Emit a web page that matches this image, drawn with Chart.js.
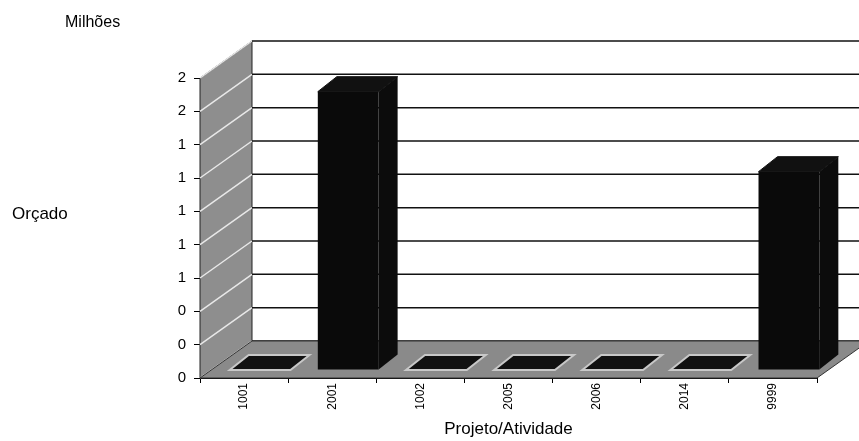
<!DOCTYPE html>
<html>
<head>
<meta charset="utf-8">
<script src="https://cdn.jsdelivr.net/npm/chart.js@4.4.1/dist/chart.umd.min.js"></script>
<style>
	html, body { margin: 0; padding: 0; background: #fff; }
	#wrap { width: 859px; height: 441px; }
</style>
</head>
<body>
<div id="wrap"><canvas id="grafico"></canvas></div>
<script>
// dados do gráfico (milhões)
const projetos = ['1001', '2001', '1002', '2005', '2006', '2014', '9999'];
const orcado = [0, 1.67, 0, 0, 0, 0, 1.19];
const yMin = 0;
const yMax = 1.8;
const yPasso = 0.2;

// profundidade do "3D"
const PROF_X = 52, PROF_Y = -37;   // paredes
const BAR_DX = 16, BAR_DY = -8;    // deslocamento das barras
const BAR_PX = 19, BAR_PY = -15;   // espessura das barras
const FONTE = '"Liberation Sans", Arial, sans-serif';

const efeito3d = {
	id: 'efeito3d',
	beforeDatasetsDraw(chart) {
		const ctx = chart.ctx;
		const a = chart.chartArea;
		const ys = chart.scales.y;
		ctx.save();
		// parede do fundo
		ctx.fillStyle = '#fff';
		ctx.fillRect(a.left + PROF_X, a.top + PROF_Y, a.right - a.left, a.bottom - a.top);
		// parede lateral
		ctx.beginPath();
		ctx.moveTo(a.left, a.bottom);
		ctx.lineTo(a.left, a.top);
		ctx.lineTo(a.left + PROF_X, a.top + PROF_Y);
		ctx.lineTo(a.left + PROF_X, a.bottom + PROF_Y);
		ctx.closePath();
		ctx.fillStyle = '#8e8e8e';
		ctx.fill();
		ctx.strokeStyle = '#222';
		ctx.lineWidth = 1;
		ctx.stroke();
		// linhas de grade
		for (let v = yMin; v <= yMax + 1e-9; v += yPasso) {
			const py = ys.getPixelForValue(v);
			ctx.beginPath();
			ctx.moveTo(a.left, py);
			ctx.lineTo(a.left + PROF_X, py + PROF_Y);
			ctx.strokeStyle = '#e8e8e8';
			ctx.lineWidth = 1.5;
			ctx.stroke();
			ctx.beginPath();
			ctx.moveTo(a.left + PROF_X, py + PROF_Y);
			ctx.lineTo(a.right + PROF_X, py + PROF_Y);
			ctx.strokeStyle = '#111';
			ctx.lineWidth = 1.5;
			ctx.stroke();
		}
		// piso
		ctx.beginPath();
		ctx.moveTo(a.left, a.bottom);
		ctx.lineTo(a.left + PROF_X, a.bottom + PROF_Y);
		ctx.lineTo(a.right + PROF_X, a.bottom + PROF_Y);
		ctx.lineTo(a.right, a.bottom);
		ctx.closePath();
		ctx.fillStyle = '#8a8a8a';
		ctx.fill();
		ctx.strokeStyle = '#333';
		ctx.lineWidth = 1;
		ctx.stroke();
		ctx.restore();
		// barras deslocadas para dentro
		ctx.save();
		ctx.translate(BAR_DX, BAR_DY);
	},
	afterDatasetsDraw(chart) {
		const ctx = chart.ctx;
		const meta = chart.getDatasetMeta(0);
		meta.data.forEach((bar) => {
			const p = bar.getProps(['x', 'y', 'base', 'width'], true);
			const l = p.x - p.width / 2, r = p.x + p.width / 2;
			const plana = p.base - p.y < 1;
			// topo
			ctx.beginPath();
			ctx.moveTo(l, p.y);
			ctx.lineTo(l + BAR_PX, p.y + BAR_PY);
			ctx.lineTo(r + BAR_PX, p.y + BAR_PY);
			ctx.lineTo(r, p.y);
			ctx.closePath();
			ctx.fillStyle = '#111';
			ctx.fill();
			ctx.strokeStyle = plana ? '#c8c8c8' : '#111';
			ctx.lineWidth = plana ? 2 : 1;
			ctx.stroke();
			// lateral
			if (!plana) {
				ctx.beginPath();
				ctx.moveTo(r, p.y);
				ctx.lineTo(r + BAR_PX, p.y + BAR_PY);
				ctx.lineTo(r + BAR_PX, p.base + BAR_PY);
				ctx.lineTo(r, p.base);
				ctx.closePath();
				ctx.fillStyle = '#0c0c0c';
				ctx.fill();
			}
		});
		ctx.restore();
	},
	afterDraw(chart) {
		const ctx = chart.ctx;
		ctx.save();
		ctx.fillStyle = '#000';
		ctx.textBaseline = 'middle';
		ctx.font = '16px ' + FONTE;
		ctx.fillText('Milhões', 65, 23);
		ctx.font = '17px ' + FONTE;
		ctx.fillText('Orçado', 12, 214);
		ctx.restore();
	}
};

new Chart(document.getElementById('grafico'), {
	type: 'bar',
	data: {
		labels: projetos,
		datasets: [{
			label: 'Orçado',
			data: orcado,
			backgroundColor: '#0a0a0a',
			borderWidth: 0,
			barPercentage: 0.69,
			categoryPercentage: 1,
			clip: false
		}]
	},
	options: {
		responsive: true,
		maintainAspectRatio: false,
		animation: false,
		layout: { padding: { top: 78, right: 42, left: 0, bottom: 0 } },
		plugins: {
			legend: { display: false },
			tooltip: { enabled: false }
		},
		scales: {
			x: {
				afterFit: (s) => { s.height = 63; },
				grid: { drawOnChartArea: false, drawTicks: true, tickLength: 5, color: '#000' },
				border: { display: true, color: '#000', width: 1 },
				ticks: {
					color: '#000',
					minRotation: 90,
					maxRotation: 90,
					padding: 0,
					font: { family: FONTE, size: 12 }
				},
				title: {
					display: true,
					text: 'Projeto/Atividade',
					color: '#000',
					padding: { top: 0, bottom: 1 },
					font: { family: FONTE, size: 17 }
				}
			},
			y: {
				min: yMin,
				max: yMax,
				afterFit: (s) => { s.width = 200; },
				grid: { drawOnChartArea: false, drawTicks: true, tickLength: 6, color: '#000' },
				border: { display: true, color: '#000', width: 1 },
				ticks: {
					stepSize: yPasso,
					color: '#000',
					padding: 8,
					font: { family: FONTE, size: 15 },
					callback: (v) => Math.round(v)
				}
			}
		}
	},
	plugins: [efeito3d]
});
</script>
</body>
</html>
